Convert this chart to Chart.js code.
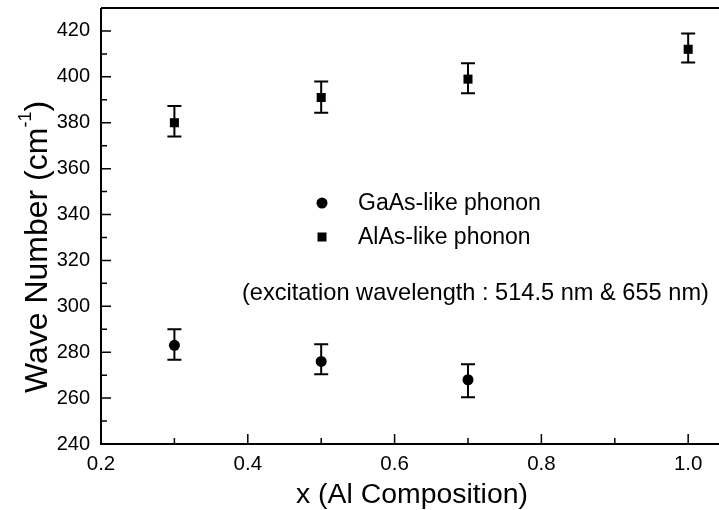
<!DOCTYPE html>
<html><head><meta charset="utf-8">
<style>html,body{margin:0;padding:0;background:#fff}#wrap{width:719px;height:510px}</style>
<script src="https://cdn.jsdelivr.net/npm/chart.js@4"></script>
</head><body><div id="wrap"><canvas id="c" width="719" height="510"></canvas></div>
<script>
// ---- data ----
const gaasX = [0.3, 0.5, 0.7];
const gaasY = [283, 276, 268];
const gaasLow = [276.7, 270.4, 260.4];
const gaasHigh = [290.0, 283.5, 274.8];
const alasX = [0.3, 0.5, 0.7, 1.0];
const alasY = [380, 391, 399, 412];
const alasLow = [374.0, 384.4, 392.8, 406.2];
const alasHigh = [387.3, 398.0, 405.9, 418.9];
const xTickValues = [0.2, 0.4, 0.6, 0.8, 1.0];
const xMinorValues = [0.3, 0.5, 0.7, 0.9];
const yTickValues = [240, 260, 280, 300, 320, 340, 360, 380, 400, 420];
const yMinorValues = [250, 270, 290, 310, 330, 350, 370, 390, 410];
const seriesLabels = ['GaAs-like phonon', 'AlAs-like phonon'];
const noteText = '(excitation wavelength : 514.5 nm & 655 nm)';
const xTitle = 'x (Al Composition)';
const yTitleMain = 'Wave Number (cm';
const yTitleSup = '-1';
const yTitleEnd = ')';

const FONT = '"Liberation Sans", Arial, Helvetica, sans-serif';

const toPts = (xs, ys, lo, hi) => xs.map((x, i) => ({x: x, y: ys[i], lo: lo[i], hi: hi[i]}));

const extras = {
  id: 'extras',
  beforeDatasetsDraw(chart) {
    const ctx = chart.ctx, xs = chart.scales.x, ys = chart.scales.y;
    ctx.save();
    ctx.strokeStyle = '#000';
    ctx.lineWidth = 2;
    chart.data.datasets.forEach(ds => {
      ds.data.forEach(p => {
        const px = xs.getPixelForValue(p.x);
        const pl = ys.getPixelForValue(p.lo);
        const ph = ys.getPixelForValue(p.hi);
        ctx.beginPath();
        ctx.moveTo(px, pl); ctx.lineTo(px, ph);
        ctx.moveTo(px - 7, pl); ctx.lineTo(px + 7, pl);
        ctx.moveTo(px - 7, ph); ctx.lineTo(px + 7, ph);
        ctx.stroke();
      });
    });
    ctx.restore();
  },
  afterDraw(chart) {
    const ctx = chart.ctx, xs = chart.scales.x, ys = chart.scales.y;
    const a = chart.chartArea;
    ctx.save();
    ctx.strokeStyle = '#000';
    ctx.lineWidth = 2;
    ctx.beginPath();
    ctx.moveTo(a.left, a.top); ctx.lineTo(a.right, a.top);
    ctx.moveTo(a.left, a.top); ctx.lineTo(a.left, a.bottom);
    ctx.lineTo(a.right, a.bottom);
    ctx.stroke();
    ctx.lineWidth = 1.5;
    ctx.beginPath();
    xTickValues.forEach(v => { const p = xs.getPixelForValue(v); ctx.moveTo(p, a.bottom); ctx.lineTo(p, a.bottom - 10); });
    xMinorValues.forEach(v => { const p = xs.getPixelForValue(v); ctx.moveTo(p, a.bottom); ctx.lineTo(p, a.bottom - 6); });
    yTickValues.forEach(v => { const p = ys.getPixelForValue(v); ctx.moveTo(a.left, p); ctx.lineTo(a.left + 10, p); });
    yMinorValues.forEach(v => { const p = ys.getPixelForValue(v); ctx.moveTo(a.left, p); ctx.lineTo(a.left + 6, p); });
    ctx.stroke();

    // legend
    ctx.fillStyle = '#000';
    ctx.beginPath(); ctx.arc(322, 203, 5.5, 0, Math.PI * 2); ctx.fill();
    ctx.fillRect(322 - 4.5, 237 - 4.5, 9, 9);
    ctx.font = '23px ' + FONT;
    ctx.textBaseline = 'middle';
    ctx.textAlign = 'left';
    ctx.fillText(seriesLabels[0], 358, 204);
    ctx.fillText(seriesLabels[1], 358, 238);
    ctx.font = '23.6px ' + FONT;
    ctx.fillText(noteText, 242, 293);

    // x title
    ctx.font = '28.4px ' + FONT;
    ctx.textAlign = 'center';
    ctx.fillText(xTitle, 412, 495);

    // y title with superscript
    ctx.save();
    ctx.translate(38, 247);
    ctx.rotate(-Math.PI / 2);
    const big = '32px ' + FONT, small = '18px ' + FONT;
    ctx.font = big;
    const w1 = ctx.measureText(yTitleMain).width;
    ctx.font = small;
    const w2 = ctx.measureText(yTitleSup).width;
    ctx.font = big;
    const w3 = ctx.measureText(yTitleEnd).width;
    const total = w1 + w2 + w3;
    let sx = -total / 2;
    ctx.textAlign = 'left';
    ctx.fillText(yTitleMain, sx, 0);
    sx += w1;
    ctx.font = small;
    ctx.fillText(yTitleSup, sx, -12);
    sx += w2;
    ctx.font = big;
    ctx.fillText(yTitleEnd, sx, 0);
    ctx.restore();
    ctx.restore();
  }
};

new Chart(document.getElementById('c'), {
  type: 'scatter',
  data: {
    datasets: [
      { label: seriesLabels[0], data: toPts(gaasX, gaasY, gaasLow, gaasHigh), pointStyle: 'circle', pointRadius: 5.5, backgroundColor: '#000', borderColor: '#000', borderWidth: 0, showLine: false },
      { label: seriesLabels[1], data: toPts(alasX, alasY, alasLow, alasHigh), pointStyle: 'rect', pointRadius: 6.4, backgroundColor: '#000', borderColor: '#000', borderWidth: 0, showLine: false }
    ]
  },
  options: {
    responsive: false,
    animation: false,
    devicePixelRatio: 1,
    layout: { autoPadding: false, padding: { top: 8, right: 0, left: 0, bottom: 0 } },
    plugins: { legend: { display: false }, tooltip: { enabled: false } },
    scales: {
      x: {
        type: 'linear', min: 0.2, max: 1.042,
        grid: { display: false, drawTicks: false },
        border: { display: false },
        afterBuildTicks: s => { s.ticks = xTickValues.map(v => ({value: v})); },
        afterFit: s => { s.height = 66; s.paddingLeft = 0; s.paddingRight = 0; },
        ticks: { padding: 8, color: '#000', font: { family: FONT, size: 20.5 }, maxRotation: 0, autoSkip: false, callback: v => Number(v).toFixed(1) }
      },
      y: {
        type: 'linear', min: 240, max: 430,
        grid: { display: false, drawTicks: false },
        border: { display: false },
        afterBuildTicks: s => { s.ticks = yTickValues.map(v => ({value: v})); },
        afterFit: s => { s.width = 101; s.paddingTop = 0; s.paddingBottom = 0; },
        ticks: { padding: 11, color: '#000', font: { family: FONT, size: 20 }, autoSkip: false, callback: v => String(v) }
      }
    }
  },
  plugins: [extras]
});
</script>
</body></html>
